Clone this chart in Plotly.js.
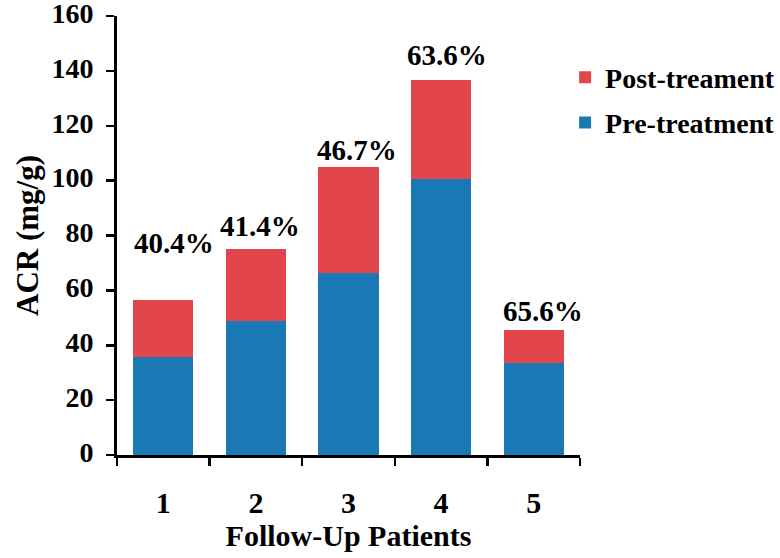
<!DOCTYPE html>
<html>
<head>
<meta charset="utf-8">
<script src="https://cdn.plot.ly/plotly-3.0.1.min.js"></script>
<style>html,body{margin:0;padding:0;background:#fff;}#chart{width:780px;height:558px;}</style>
</head>
<body>
<div id="chart"></div>
<script>
// Data
var patients = ['1', '2', '3', '4', '5'];
var preTreatment = [35.6, 48.7, 66.2, 100.6, 33.4];
var postTreatment = [20.8, 26.2, 38.9, 36.2, 12.1]; // stacked segment on top of pre-treatment
var percentLabels = ['40.4%', '41.4%', '46.7%', '63.6%', '65.6%'];
var yTickValues = [0, 20, 40, 60, 80, 100, 120, 140, 160];

// label offsets (style only)
var labelYShift = [39, 5, -1, 7, 1];
var labelXShift = [11, 4, 8, 6, 9];

var fontFam = 'Liberation Serif, Times New Roman, serif';

var traces = [
  {type: 'bar', name: 'Pre-treatment', x: patients, y: preTreatment, legendgroup: 'pre', legendrank: 2,
   marker: {color: '#1a78b4', line: {width: 0}}, width: 0.65},
  {type: 'bar', name: 'Post-treament', x: patients, y: postTreatment, legendgroup: 'post', legendrank: 1,
   marker: {color: '#e2454b', line: {width: 0}}, width: 0.65}
];

var annotations = patients.map(function (p, i) {
  return {
    x: i, y: preTreatment[i] + postTreatment[i], xref: 'x', yref: 'y',
    text: '<b>' + percentLabels[i] + '</b>', showarrow: false,
    yanchor: 'bottom', yshift: labelYShift[i], xshift: labelXShift[i],
    font: {family: fontFam, size: 29, color: '#000'}
  };
});

var layout = {
  width: 780, height: 558,
  margin: {l: 117, r: 200, t: 16, b: 103, autoexpand: false},
  paper_bgcolor: '#fff', plot_bgcolor: '#fff',
  barmode: 'stack',
  showlegend: true,
  legend: {xref: 'container', yref: 'container', x: 0.7245, xanchor: 'left', y: 0.906, yanchor: 'top',
           traceorder: 'grouped', tracegroupgap: 6, bgcolor: 'rgba(0,0,0,0)',
           font: {family: fontFam, size: 28, color: '#000', weight: 'bold'}},
  xaxis: {type: 'category', range: [-0.5, 4.5],
          showline: true, linecolor: '#000', linewidth: 3,
          ticks: 'outside', tickson: 'boundaries', ticklen: 8, tickwidth: 2.5, tickcolor: '#000',
          ticklabelstandoff: 19,
          tickfont: {family: fontFam, size: 30, color: '#000', weight: 'bold'},
          showgrid: false, zeroline: false,
          title: {text: '<b>Follow-Up Patients</b>', standoff: 2,
                  font: {family: fontFam, size: 30, color: '#000'}}},
  yaxis: {range: [0, 160], tickmode: 'array', tickvals: yTickValues,
          showline: true, linecolor: '#000', linewidth: 3,
          ticks: 'outside', ticklen: 8, tickwidth: 2.5, tickcolor: '#000',
          ticklabelstandoff: 7, ticklabelshift: -3, ticklabeloverflow: 'allow',
          tickfont: {family: fontFam, size: 28, color: '#000', weight: 'bold'},
          showgrid: false, zeroline: false,
          title: {text: '<b>ACR (mg/g)</b>', standoff: 4,
                  font: {family: fontFam, size: 31, color: '#000'}}},
  annotations: annotations
};

Plotly.newPlot('chart', traces, layout, {displayModeBar: false, staticPlot: true});
</script>
</body>
</html>
